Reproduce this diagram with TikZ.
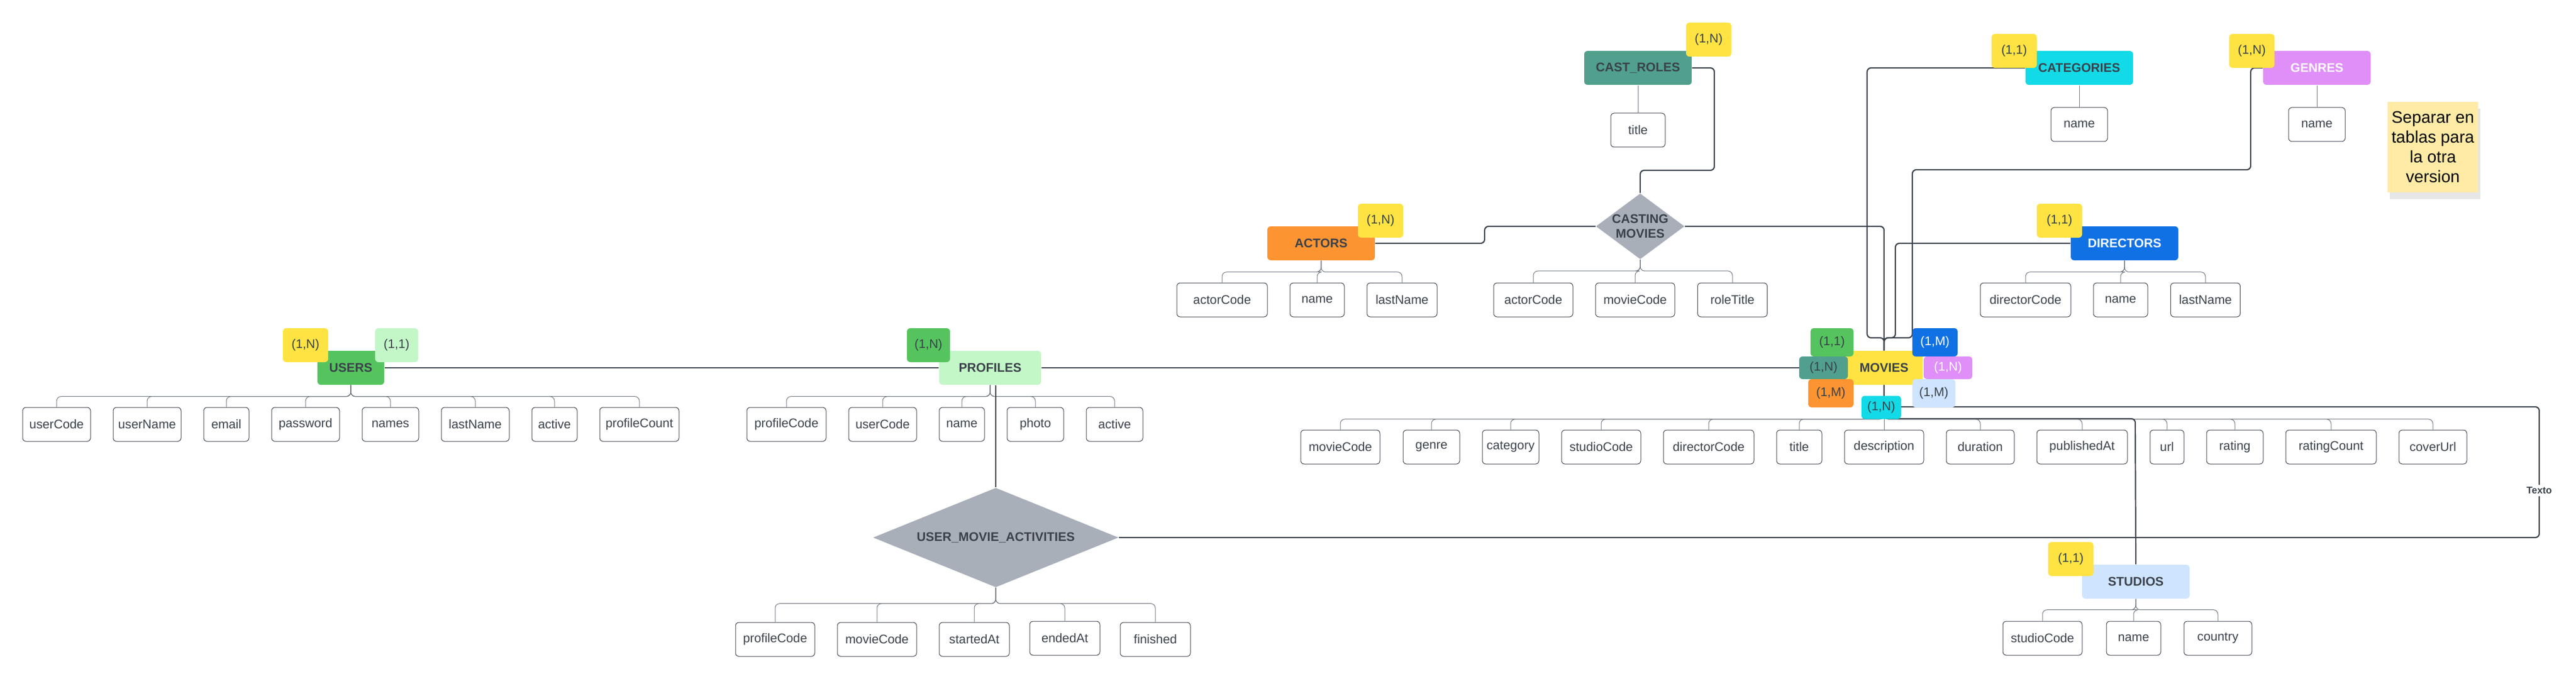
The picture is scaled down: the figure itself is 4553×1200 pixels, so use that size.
\documentclass[tikz,border=0pt]{standalone}
\usepackage{fontspec}
\setmainfont{Liberation Sans}
\usepackage{tikz}
\usetikzlibrary{shapes.geometric}
\usetikzlibrary{shadows}
\definecolor{ink}{HTML}{3A414A}
\definecolor{wire}{HTML}{6F757E}
\definecolor{badgeyellow}{HTML}{FFE342}
\definecolor{usergreen}{HTML}{55C45E}
\definecolor{palegreen}{HTML}{C3F7C8}
\definecolor{castteal}{HTML}{50A08D}
\definecolor{actorange}{HTML}{FC9432}
\definecolor{catcyan}{HTML}{12DAE6}
\definecolor{genpurple}{HTML}{E08FF9}
\definecolor{dirblue}{HTML}{1071E5}
\definecolor{studblue}{HTML}{CFE4FF}
\definecolor{relgray}{HTML}{A9AFB9}
\definecolor{stickyyellow}{HTML}{FFEBA6}
\newcommand{\attrfont}{\fontsize{6.3}{7.6}\selectfont}
\newcommand{\entfont}{\fontsize{6.3}{7.6}\selectfont\bfseries}
\tikzset{
	entity/.style={rounded corners=0.6mm, minimum width=19mm, minimum height=6mm, inner sep=0pt, text=ink, font=\entfont},
	attr/.style={draw=ink, line width=0.1mm, rounded corners=0.6mm, fill=white, minimum height=6mm, inner sep=0pt, text=ink, font=\attrfont},
	badge/.style={rounded corners=0.6mm, fill=badgeyellow, minimum width=8mm, minimum height=6mm, inner sep=0pt, text=ink, font=\attrfont},
	relation/.style={diamond, fill=relgray, inner sep=0pt, align=center, text=ink, font=\entfont},
	relline/.style={draw=ink, line width=0.22mm, rounded corners=0.7mm},
	attrline/.style={draw=wire, line width=0.1mm, rounded corners=0.8mm},
	sticky/.style={fill=stickyyellow, minimum width=16mm, minimum height=16mm, inner sep=0pt, align=center, font=\fontsize{8.4}{10}\selectfont, drop shadow={opacity=0.2, shadow xshift=0.4mm, shadow yshift=-1.2mm}},
	textolabel/.style={fill=white, inner sep=0.4mm, text=ink, font=\fontsize{4.9}{6}\selectfont\bfseries}
}

\begin{document}
\begin{tikzpicture}[x=0.1mm,y=-0.1mm]
	\useasboundingbox (0,0) rectangle (4553,1200);

	% entities
	\node[entity, fill=usergreen, minimum width=11.8mm] (users) at (620,650) {USERS};
	\node[entity, fill=palegreen, minimum width=18mm] (profiles) at (1750,650) {PROFILES};
	\node[entity, fill=castteal] (castroles) at (2895,120) {CAST\_ROLES};
	\node[entity, fill=actorange] (actors) at (2335,430) {ACTORS};
	\node[entity, fill=catcyan] (categories) at (3675,120) {CATEGORIES};
	\node[entity, fill=genpurple, text=white] (genres) at (4095,120) {GENRES};
	\node[entity, fill=dirblue, text=white] (directors) at (3755,430) {DIRECTORS};
	\node[entity, fill=badgeyellow, minimum width=13.6mm] (movies) at (3330,650) {MOVIES};
	\node[entity, fill=studblue] (studios) at (3775,1028) {STUDIOS};

	% relations
	\node[relation, minimum width=15.6mm, minimum height=11.6mm, aspect=1.345] (casting) at (2899,400) {CASTING\\MOVIES};
	\node[relation, minimum width=43.4mm, minimum height=17.6mm, aspect=2.47] (uma) at (1760,950) {USER\_MOVIE\_ACTIVITIES};

	% attributes of USERS
	\node[attr, minimum width=12mm] (uCode) at (100,750) {userCode};
	\node[attr, minimum width=12mm] (uName) at (260,750) {userName};
	\node[attr, minimum width=8mm] (uMail) at (400,750) {email};
	\node[attr, minimum width=12mm] (uPass) at (540,750) {password};
	\node[attr, minimum width=10mm] (uNames) at (690,750) {names};
	\node[attr, minimum width=12mm] (uLast) at (840,750) {lastName};
	\node[attr, minimum width=8mm] (uActive) at (980,750) {active};
	\node[attr, minimum width=14mm] (uCount) at (1130,750) {profileCount};

	% attributes of PROFILES
	\node[attr, minimum width=14mm] (pCode) at (1390,750) {profileCode};
	\node[attr, minimum width=12mm] (pUser) at (1560,750) {userCode};
	\node[attr, minimum width=8mm] (pName) at (1700,750) {name};
	\node[attr, minimum width=10mm] (pPhoto) at (1830,750) {photo};
	\node[attr, minimum width=10mm] (pActive) at (1970,750) {active};

	% attributes of CAST_ROLES, CATEGORIES, GENRES
	\node[attr, minimum width=9.6mm] (crTitle) at (2895,230) {title};
	\node[attr, minimum width=10mm] (catName) at (3675,220) {name};
	\node[attr, minimum width=10mm] (genName) at (4095,220) {name};

	% attributes of ACTORS and CASTING MOVIES
	\node[attr, minimum width=16mm] (aCode) at (2160,530) {actorCode};
	\node[attr, minimum width=9.6mm] (aName) at (2328,530) {name};
	\node[attr, minimum width=12.4mm] (aLast) at (2478,530) {lastName};
	\node[attr, minimum width=14mm] (cmActor) at (2710,530) {actorCode};
	\node[attr, minimum width=14mm] (cmMovie) at (2890,530) {movieCode};
	\node[attr, minimum width=12.3mm] (cmRole) at (3062,530) {roleTitle};

	% attributes of DIRECTORS
	\node[attr, minimum width=16mm] (dCode) at (3580,530) {directorCode};
	\node[attr, minimum width=9.6mm] (dName) at (3748,530) {name};
	\node[attr, minimum width=12.3mm] (dLast) at (3898,530) {lastName};

	% attributes of MOVIES
	\node[attr, minimum width=14mm] (mCode) at (2369,790) {movieCode};
	\node[attr, minimum width=10mm] (mGenre) at (2530,790) {genre};
	\node[attr, minimum width=10mm] (mCategory) at (2670,790) {category};
	\node[attr, minimum width=14mm] (mStudio) at (2830,790) {studioCode};
	\node[attr, minimum width=16mm] (mDirector) at (3020,790) {directorCode};
	\node[attr, minimum width=8mm] (mTitle) at (3180,790) {title};
	\node[attr, minimum width=14mm] (mDesc) at (3330,790) {description};
	\node[attr, minimum width=12mm] (mDuration) at (3500,790) {duration};
	\node[attr, minimum width=16mm] (mPublished) at (3680,790) {publishedAt};
	\node[attr, minimum width=6mm] (mUrl) at (3830,790) {url};
	\node[attr, minimum width=10mm] (mRating) at (3950,790) {rating};
	\node[attr, minimum width=16mm] (mCount) at (4120,790) {ratingCount};
	\node[attr, minimum width=12mm] (mCover) at (4300,790) {coverUrl};

	% attributes of USER_MOVIE_ACTIVITIES
	\node[attr, minimum width=14mm] (umaProfile) at (1370,1130) {profileCode};
	\node[attr, minimum width=14mm] (umaMovie) at (1550,1130) {movieCode};
	\node[attr, minimum width=12.4mm] (umaStart) at (1722,1130) {startedAt};
	\node[attr, minimum width=12.4mm] (umaEnd) at (1882,1128) {endedAt};
	\node[attr, minimum width=12.4mm] (umaFinished) at (2042,1130) {finished};

	% attributes of STUDIOS
	\node[attr, minimum width=14mm] (sCode) at (3610,1128) {studioCode};
	\node[attr, minimum width=9.6mm] (sName) at (3771,1128) {name};
	\node[attr, minimum width=12mm] (sCountry) at (3920,1128) {country};

	% attribute trees
	\foreach \a in {uCode,uName,uMail,uPass,uNames,uLast,uActive,uCount}
		\draw[attrline] (users.south) -- ++(0,20) -| (\a.north);
	\foreach \a in {pCode,pUser,pName,pPhoto,pActive}
		\draw[attrline] (profiles.south) -- ++(0,20) -| (\a.north);
	\foreach \a in {aCode,aName,aLast}
		\draw[attrline] (actors.south) -- ++(0,20) -| (\a.north);
	\foreach \a in {cmActor,cmMovie,cmRole}
		\draw[attrline] (casting.south) -- ++(0,20) -| (\a.north);
	\foreach \a in {dCode,dName,dLast}
		\draw[attrline] (directors.south) -- ++(0,20) -| (\a.north);
	\foreach \a in {mCode,mGenre,mCategory,mStudio,mDirector,mTitle,mDesc,mDuration,mPublished,mUrl,mRating,mCount,mCover}
		\draw[attrline] (movies.south) -- ++(0,60) -| (\a.north);
	\foreach \a in {umaProfile,umaMovie,umaStart,umaEnd,umaFinished}
		\draw[attrline] (uma.south) -- ++(0,28) -| (\a.north);
	\foreach \a in {sCode,sName,sCountry}
		\draw[attrline] (studios.south) -- ++(0,19) -| (\a.north);
	\draw[attrline] (castroles.south) -- (crTitle.north);
	\draw[attrline] (categories.south) -- (catName.north);
	\draw[attrline] (genres.south) -- (genName.north);

	% relationships
	\coordinate (actbend) at (2624,415);
	\coordinate (castbend) at (3030,301);
	\coordinate (catbend) at (3300,597);
	\coordinate (genbend) at (3978,300);
	\coordinate (genbend2) at (3380,597);
	\coordinate (dirbend) at (3350,597);
	\coordinate (studbend) at (3774,740);
	\coordinate (umaturn) at (4488,719);
	\draw[relline] (users.east) -- (profiles.west);
	\draw[relline] (profiles.east) -- (movies.west);
	\draw[relline] (profiles.south -| uma.north) -- (uma.north);
	\draw[relline] (actors.east) -| (actbend) |- (casting.west);
	\draw[relline] (castroles.east) -| (castbend) -| (casting.north);
	\draw[relline] (casting.east) -| (movies.north);
	\draw[relline] (categories.west) -| (catbend) -| (movies.north);
	\draw[relline] (genres.west) -| (genbend) -| (genbend2) -| (movies.north);
	\draw[relline] (directors.west) -| (dirbend) -| (movies.north);
	\draw[relline] (movies.south) |- (studbend) -- (studios.north);
	\draw[relline] (uma.east) -| node[pos=0.68, textolabel] (texto) {Texto} (umaturn) -| (movies.south);

	% cardinalities
	\node[badge] (usersN) at (540,610) {(1,N)};
	\node[badge, fill=palegreen, minimum width=7.6mm] (usersOne) at (701,610) {(1,1)};
	\node[badge, fill=usergreen, minimum width=7.6mm] (profilesN) at (1641,610) {(1,N)};
	\node[badge] (castN) at (3020,70) {(1,N)};
	\node[badge] (actorsN) at (2440,390) {(1,N)};
	\node[badge] (categoriesOne) at (3560,90) {(1,1)};
	\node[badge] (genresN) at (3980,90) {(1,N)};
	\node[badge] (directorsOne) at (3640,390) {(1,1)};
	\node[badge] (studiosOne) at (3660,988) {(1,1)};
	\node[badge, fill=usergreen, minimum width=7.6mm, minimum height=5mm] (mvProfiles) at (3238,605) {(1,1)};
	\node[badge, fill=castteal, minimum width=8.6mm, minimum height=4mm] (mvCasting) at (3223,650) {(1,N)};
	\node[badge, fill=actorange, minimum height=5mm] (mvActors) at (3236,695) {(1,M)};
	\node[badge, fill=dirblue, text=white, minimum height=5mm] (mvDirectors) at (3420,605) {(1,M)};
	\node[badge, fill=genpurple, text=white, minimum width=8.6mm, minimum height=4mm] (mvGenres) at (3443,650) {(1,N)};
	\node[badge, fill=studblue, minimum width=7.6mm, minimum height=5mm] (mvStudios) at (3418,695) {(1,M)};
	\node[badge, fill=catcyan, minimum width=7mm, minimum height=4.1mm] (mvCategories) at (3325,720) {(1,N)};

	% note
	\node[sticky] (note) at (4300,260) {Separar en\\tablas para\\la otra\\version};
\end{tikzpicture}
\end{document}
